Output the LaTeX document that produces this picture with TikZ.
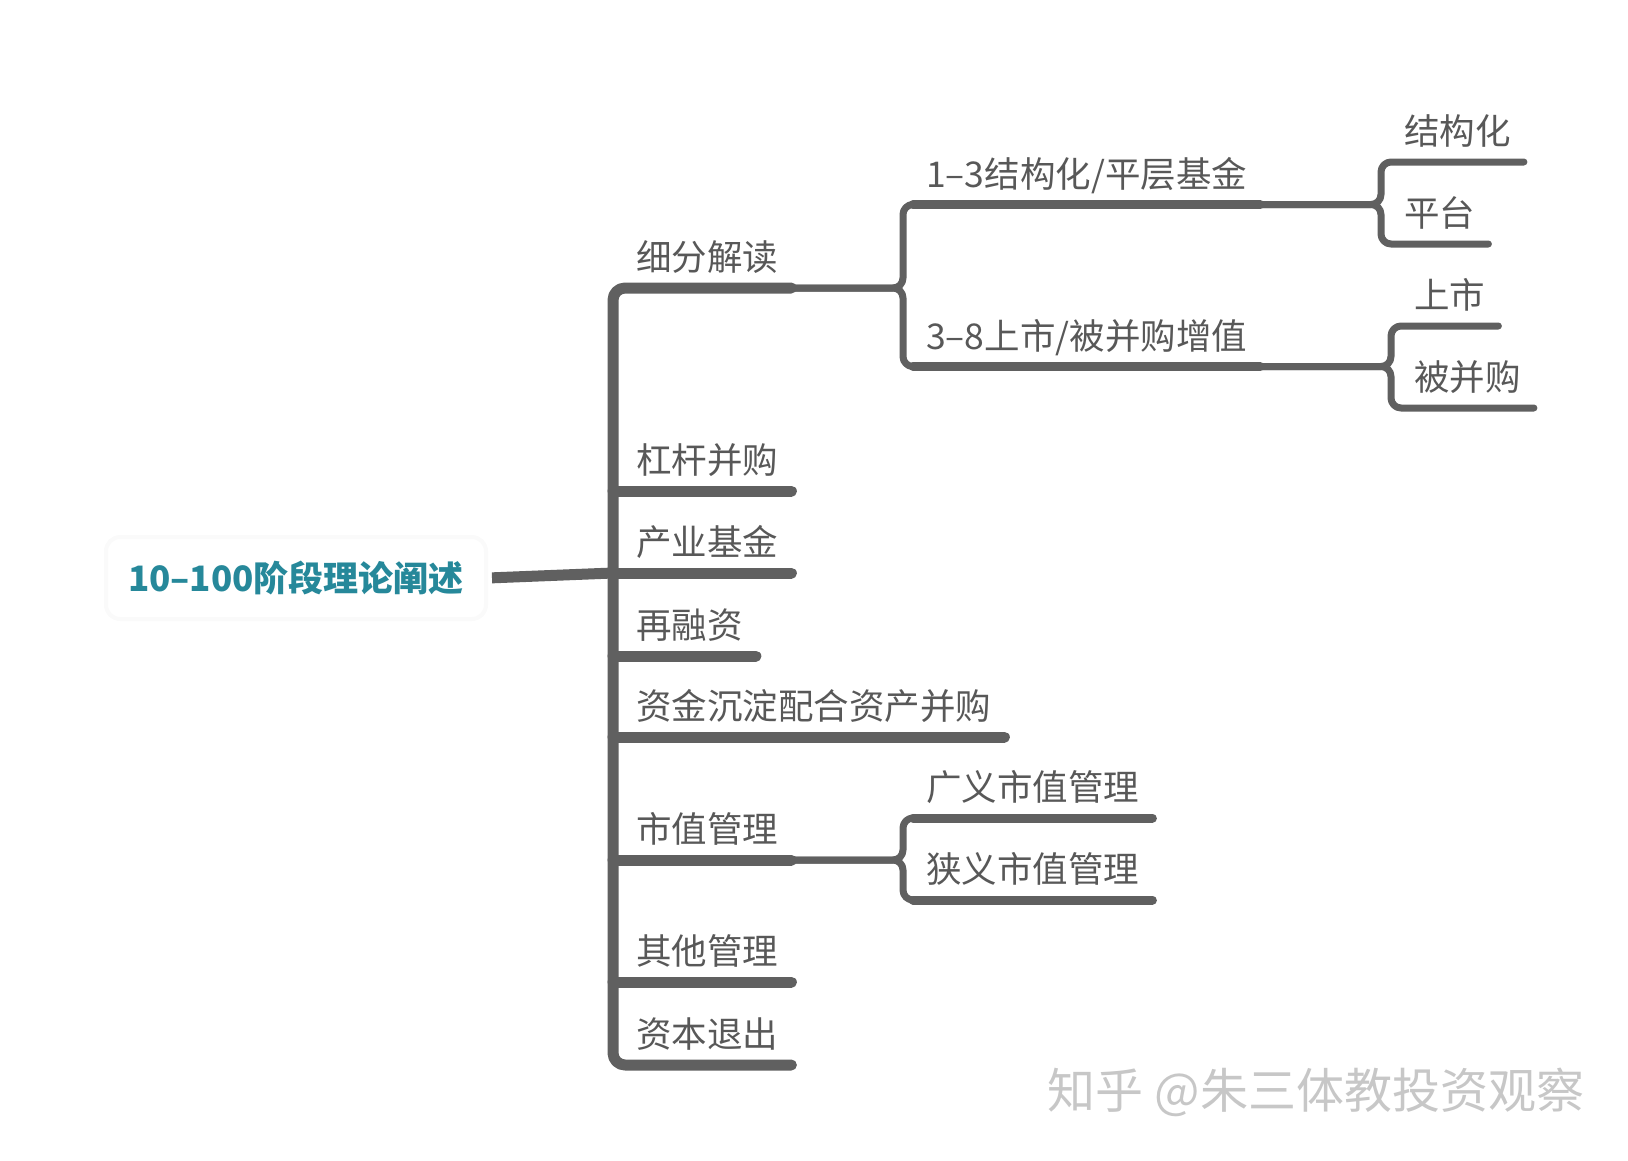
\documentclass[tikz,border=0pt]{standalone}
\usepackage{fontspec}
\setmainfont{Noto Sans CJK SC}
\usetikzlibrary{positioning}
\definecolor{mmline}{RGB}{96, 96, 96}
\definecolor{mmtext}{RGB}{88, 88, 88}
\definecolor{mmteal}{RGB}{38, 136, 154}

\begin{document}
\begin{tikzpicture}[x=1pt, y=-1pt, line cap=round, line join=round,
    topic/.style={anchor=south west, inner xsep=13pt, inner ysep=13pt, text height=31pt, text depth=4pt, text=mmtext, font=\fontsize{35.5}{40}\selectfont},
    trunk/.style={draw=mmline, line width=11pt, rounded corners=12pt},
    twig/.style={draw=mmline, line width=7pt, rounded corners=10pt},
    under/.style={draw=mmline, line width=9pt}]
    \useasboundingbox (0,0) rectangle (1628,1160);

    \node[draw=black!2, line width=4pt, fill=white, rounded corners=14pt, minimum width=380pt, minimum height=82pt, text=mmteal, font=\fontsize{35}{40}\selectfont\bfseries] (root) at (296,578) {10–100阶段理论阐述};

    \coordinate (j0) at (613,573);
    \node[topic] (xifen) at (623,288) {细分解读};
    \node[topic] (ganggan) at (623,491) {杠杆并购};
    \node[topic] (chanye) at (623,573) {产业基金};
    \node[topic] (rongzi) at (623,656) {再融资};
    \node[topic] (chendian) at (623,737) {资金沉淀配合资产并购};
    \node[topic] (shizhi) at (623,860) {市值管理};
    \node[topic] (qita) at (623,982) {其他管理};
    \node[topic] (tuichu) at (623,1065) {资本退出};

    \coordinate (j1) at (903,288);
    \node[topic] (jijin) at (913,204.5) {1–3结构化/平层基金};
    \node[topic] (zengzhi) at (913,366.5) {3–8上市/被并购增值};
    \coordinate (j2) at (903,860);
    \node[topic] (guangyi) at (913,818) {广义市值管理};
    \node[topic] (xiayi) at (913,900) {狭义市值管理};

    \coordinate (ja) at (1381,204.5);
    \node[topic] (jiegou) at (1391,162) {结构化};
    \node[topic] (pingtai) at (1391,244) {平台};
    \coordinate (jb) at (1391,366.5);
    \node[topic] (shangshi) at (1401,326) {上市};
    \node[topic] (beibing) at (1401,408) {被并购};

    \draw[trunk, line cap=butt, shorten <=4pt] (root.east) -- (j0);
    \draw[trunk] (xifen.south east) -| (j0) |- (tuichu.south east);
    \foreach \n in {ganggan,chanye,rongzi,chendian,shizhi,qita}
        \draw[trunk] (j0 |- \n.south) -- (\n.south east);

    \draw[twig] (jijin.south east) -| (j1) -- (xifen.south east);
    \draw[twig] (zengzhi.south east) -| (j1) -- (xifen.south east);
    \draw[twig] (guangyi.south east) -| (j2) -- (shizhi.south east);
    \draw[twig] (xiayi.south east) -| (j2) -- (shizhi.south east);
    \foreach \n in {jijin,zengzhi,guangyi,xiayi}
        \draw[under] (\n.south west) -- (\n.south east);

    \draw[twig] (jiegou.south east) -| (ja) -- (jijin.south east);
    \draw[twig] (pingtai.south east) -| (ja) -- (jijin.south east);
    \draw[twig] (shangshi.south east) -| (jb) -- (zengzhi.south east);
    \draw[twig] (beibing.south east) -| (jb) -- (zengzhi.south east);

    \node[text=black!22, font=\fontsize{48}{54}\selectfont] (mark) at (1316,1092) {知乎 @朱三体教投资观察};
\end{tikzpicture}
\end{document}
